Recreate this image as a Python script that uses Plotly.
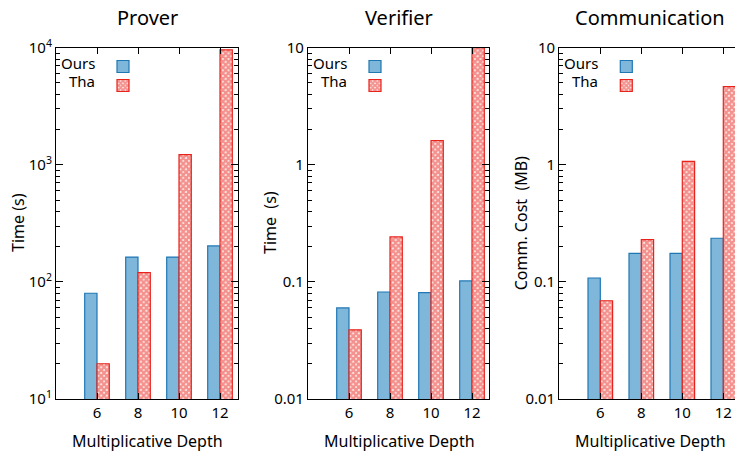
import plotly.graph_objects as go

depths = [6, 8, 10, 12]
depth_labels = ["6", "8", "10", "12"]
series_names = ["Ours", "Tha"]

prover_ours = [80, 163, 163, 203]
prover_tha = [20, 120, 1220, 9600]
verifier_ours = [0.06, 0.082, 0.081, 0.102]
verifier_tha = [0.039, 0.242, 1.61, 10.0]
comm_ours = [0.108, 0.175, 0.175, 0.236]
comm_tha = [0.069, 0.23, 1.07, 4.66]

panel_titles = ["Prover", "Verifier", "Communication"]
y_titles = ["Time (s)", "Time  (s)", "Comm. Cost  (MB)"]
x_title = "Multiplicative Depth"

prover_ticks = [10, 100, 1000, 10000]
prover_ticktext = ["10<sup>1</sup>", "10<sup>2</sup>", "10<sup>3</sup>", "10<sup>4</sup>"]
small_ticks = [0.01, 0.1, 1, 10]
small_ticktext = ["0.01", "0.1", "1", "10"]

W, H = 735, 459
FONT = "Noto Sans"
BLUE_FILL = "#7fb7db"
BLUE_LINE = "#1f77b4"
RED = "#e8231c"

# pixel geometry
top_px, bot_px = 47.7, 399.0
panels_px = [(56.0, 238.0), (308.0, 489.0), (559.3, 735.0)]
px_per_unit = 20.5
x_left = 4.0

fig = go.Figure()

data = [
    (prover_ours, prover_tha, prover_ticks, prover_ticktext, (1, 4)),
    (verifier_ours, verifier_tha, small_ticks, small_ticktext, (-2, 1)),
    (comm_ours, comm_tha, small_ticks, small_ticktext, (-2, 1)),
]

annotations = []
for i, (ours, tha, tv, tt, yr) in enumerate(data):
    n = i + 1
    xa = "x" if n == 1 else f"x{n}"
    ya = "y" if n == 1 else f"y{n}"
    lg = "legend" if n == 1 else f"legend{n}"
    fig.add_trace(go.Bar(
        x=depths, y=ours, name=" ", xaxis=xa, yaxis=ya, legend=lg,
        marker=dict(color=BLUE_FILL, line=dict(color=BLUE_LINE, width=1.2)),
        offsetgroup="a", showlegend=True,
    ))
    fig.add_trace(go.Bar(
        x=depths, y=tha, name=" ", xaxis=xa, yaxis=ya, legend=lg,
        marker=dict(color="white", line=dict(color=RED, width=1.2),
                    pattern=dict(shape="x", fgcolor=RED, bgcolor="white", size=4, solidity=0.85)),
        offsetgroup="b", showlegend=True,
    ))
    x0, x1 = panels_px[i]
    dom = [x0 / W, x1 / W]
    x_right = x_left + (x1 - x0) / px_per_unit
    xkey = "xaxis" if n == 1 else f"xaxis{n}"
    ykey = "yaxis" if n == 1 else f"yaxis{n}"
    minor_vals = []
    for d in range(yr[0], yr[1]):
        for m in range(2, 10):
            minor_vals.append(m * 10 ** d)
    fig.update_layout({
        xkey: dict(domain=dom, anchor=ya, range=[x_left, x_right], tickvals=depths,
                   ticktext=depth_labels, ticks="inside", ticklen=6, tickcolor="black",
                   showline=True, linecolor="black", linewidth=1.2, automargin=False,
                   mirror="ticks", showgrid=False, zeroline=False,
                   tickfont=dict(family=FONT, size=15, color="black")),
        ykey: dict(domain=[1 - bot_px / H, 1 - top_px / H], anchor=xa, type="log",
                   range=list(yr), tickvals=tv, ticktext=tt, ticks="inside", ticklen=7,
                   tickcolor="black", showline=True, linecolor="black", linewidth=1.2,
                   mirror="ticks" if n < 3 else False, showgrid=False, zeroline=False,
                   automargin=False,
                   minor=dict(ticks="inside", ticklen=4, tickcolor="black", tickvals=minor_vals,
                              showgrid=False),
                   tickfont=dict(family=FONT, size=15, color="black")),
        lg: dict(x=(x0 + 47) / W, y=1 - 52 / H, xanchor="left", yanchor="top",
                 bgcolor="rgba(0,0,0,0)", font=dict(family=FONT, size=10, color="black"),
                 tracegroupgap=0, itemwidth=30, traceorder="normal"),
    })
    full_right = x0 + (12.88 - x_left) * px_per_unit
    cx = (x0 + full_right) / 2
    annotations.append(dict(text=panel_titles[i], x=cx / W, y=1 - 18 / H,
                            xref="paper", yref="paper", showarrow=False,
                            font=dict(family=FONT, size=20, color="black"),
                            xanchor="center", yanchor="middle"))
    annotations.append(dict(text=y_titles[i], x=(x0 - 38) / W, y=1 - 223 / H,
                            xref="paper", yref="paper", showarrow=False, textangle=-90,
                            font=dict(family=FONT, size=16, color="black"),
                            xanchor="center", yanchor="middle"))
    annotations.append(dict(text=x_title, x=cx / W, y=1 - 441 / H,
                            xref="paper", yref="paper", showarrow=False,
                            font=dict(family=FONT, size=16, color="black"),
                            xanchor="center", yanchor="middle"))
    for k, nm in enumerate(series_names):
        annotations.append(dict(text=nm, x=(x0 + 41) / W, y=1 - (63 + 18 * k) / H,
                                xref="paper", yref="paper", showarrow=False,
                                font=dict(family=FONT, size=15, color="black"),
                                xanchor="right", yanchor="middle"))

fig.update_layout(
    width=W, height=H, margin=dict(l=0, r=0, t=0, b=0, autoexpand=False),
    paper_bgcolor="white", plot_bgcolor="white",
    barmode="group", bargap=0.4, bargroupgap=0,
    annotations=annotations,
    font=dict(family=FONT, color="black"),
)

fig.write_html("out.html", config={"displayModeBar": False},
               post_script="document.body.style.margin='0px';document.body.style.overflow='hidden';")
